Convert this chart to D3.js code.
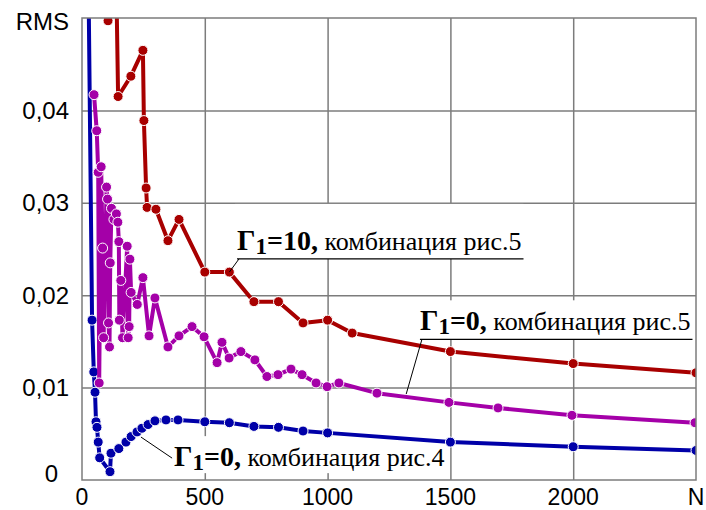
<!DOCTYPE html>
<html>
<head>
<meta charset="utf-8">
<script src="https://cdn.jsdelivr.net/npm/d3@7/dist/d3.min.js"></script>
<style>
  body { margin: 0; background: #fff; }
  svg { display: block; }
</style>
</head>
<body>
<svg id="chart" width="706" height="510"></svg>
<script>
// Γ1=10, комбинация рис.5
var redN = [106, 133, 147, 199, 248, 252, 261, 265, 301, 350, 395, 500, 600, 700, 800, 900, 1000, 1100, 1500, 2000, 2500]
var redV = [0.0497, 0.065, 0.0415, 0.0437, 0.0465, 0.0389, 0.0316, 0.0295, 0.0293, 0.0259, 0.0282, 0.0225, 0.0225, 0.0193, 0.0193, 0.0170, 0.0173, 0.0159, 0.0139, 0.0126, 0.0116]

// Γ1=0, комбинация рис.5
var purpleN = [49, 60, 66, 70, 78, 84, 88, 100, 104, 108, 112, 115, 120, 130, 140, 146, 150, 152, 158, 165, 184, 188, 192, 195, 200, 225, 248, 273, 297, 350, 395, 448, 497, 550, 570, 599, 647, 704, 753, 798, 851, 896, 953, 998, 1046, 1201, 1494, 1694, 1995, 2496]
var purpleV = [0.0417, 0.0378, 0.0333, 0.0105, 0.0339, 0.0251, 0.0154, 0.0317, 0.0304, 0.0170, 0.0144, 0.0235, 0.0294, 0.0282, 0.0288, 0.0279, 0.0258, 0.0173, 0.0216, 0.0154, 0.0253, 0.0154, 0.0166, 0.0239, 0.0203, 0.0190, 0.0219, 0.0156, 0.0197, 0.0144, 0.0156, 0.0166, 0.0155, 0.0127, 0.0149, 0.0132, 0.0139, 0.0130, 0.0112, 0.0114, 0.0120, 0.0114, 0.0105, 0.0101, 0.0105, 0.0094, 0.0084, 0.0078, 0.0070, 0.0062]

// Γ1=0, комбинация рис.4
var blueN = [24, 41, 48, 53, 57, 61, 66, 72, 114, 118, 150, 179, 200, 224, 244, 269, 297, 342, 391, 500, 600, 700, 800, 900, 1000, 1500, 2000, 2500]
var blueV = [0.06, 0.0173, 0.0117, 0.0095, 0.0063, 0.0057, 0.0041, 0.0024, 0.0009, 0.0029, 0.0034, 0.0041, 0.0047, 0.0052, 0.0056, 0.0060, 0.0064, 0.0065, 0.0065, 0.0063, 0.0062, 0.0058, 0.0057, 0.0053, 0.0051, 0.0041, 0.0036, 0.0032]

var xTicks = [0, 500, 1000, 1500, 2000, 2500]
var xTickLabels = ['0', '500', '1000', '1500', '2000', 'N']
var yTicks = [0, 0.01, 0.02, 0.03, 0.04, 0.05]
var yTickLabels = ['0', '0,01', '0,02', '0,03', '0,04', 'RMS']

var w = 706
var h = 510
var margin = {top: 18, right: 10, bottom: 30, left: 82}

var svg = d3.select('#chart')

var x = d3.scaleLinear().domain([0, 2500]).range([margin.left, w - margin.right])
var y = d3.scaleLinear().domain([0, 0.05]).range([h - margin.bottom, margin.top])

var gridColor = '#7c7c7c'

// grid
svg.append('g')
    .attr('transform', `translate(0,${margin.top})`)
    .call(d3.axisBottom(x).tickValues(xTicks.slice(1, -1)).tickSize(y(0) - margin.top).tickFormat(''))
    .call(g => g.select('.domain').remove())
    .selectAll('line').attr('stroke', gridColor).attr('stroke-width', 1.5)

svg.append('g')
    .attr('transform', `translate(${margin.left},0)`)
    .call(d3.axisRight(y).tickValues(yTicks.slice(1, -1)).tickSize(x(2500) - margin.left).tickFormat(''))
    .call(g => g.select('.domain').remove())
    .selectAll('line').attr('stroke', gridColor).attr('stroke-width', 1.5)

// annotations: white boxes go over the grid
var notes = [
  {n: 631, v: 0.0249, big: '=10,', rest: ' комбинация рис.5', underline: true, lead: [600, 0.0225], pad: [20, 6]},
  {n: 1376, v: 0.0162, big: '=0,', rest: ' комбинация рис.5', underline: true, lead: [1320, 0.0093], pad: [4, 6]},
  {n: 375, v: 0.0015, big: '=0,', rest: ' комбинация рис.4', underline: false, lead: [240, 0.00465], pad: [4, 2]}
]

var noteLayer = svg.append('g')
var seriesLayer = svg.append('g')
var textLayer = svg.append('g')

notes.forEach(d => {
  var g = textLayer.append('g')
  var t = g.append('text')
      .attr('x', x(d.n))
      .attr('y', y(d.v))
      .attr('font-family', '"Liberation Serif", "Times New Roman", serif')
      .attr('fill', '#000')
  t.append('tspan').attr('font-size', 29).attr('font-weight', 'bold').text('Γ')
  t.append('tspan').attr('font-size', 23).attr('font-weight', 'bold').attr('dy', 4).text('1')
  t.append('tspan').attr('font-size', 28).attr('font-weight', 'bold').attr('dy', -4).text(d.big)
  t.append('tspan').attr('font-size', 26).text(d.rest)

  var bb = t.node().getBBox()
  var ulY = y(d.v) + 9
  noteLayer.append('rect')
      .attr('x', bb.x - 2)
      .attr('y', bb.y - d.pad[0])
      .attr('width', bb.width + 4)
      .attr('height', (d.underline ? ulY - bb.y : bb.height) + d.pad[0] + (d.underline ? 0 : -d.pad[1]))
      .attr('fill', '#fff')

  if (d.underline) {
    g.append('line')
        .attr('x1', bb.x).attr('x2', bb.x + bb.width + 2)
        .attr('y1', ulY).attr('y2', ulY)
        .attr('stroke', '#000').attr('stroke-width', 1.2)
    g.append('line')
        .attr('x1', bb.x + 2).attr('y1', ulY)
        .attr('x2', x(d.lead[0])).attr('y2', y(d.lead[1]))
        .attr('stroke', '#000').attr('stroke-width', 1)
  } else {
    g.append('line')
        .attr('x1', bb.x - 2).attr('y1', y(d.v) - 8)
        .attr('x2', x(d.lead[0])).attr('y2', y(d.lead[1]))
        .attr('stroke', '#000').attr('stroke-width', 1)
  }
})

// frame
svg.append('rect')
    .attr('x', margin.left)
    .attr('y', margin.top)
    .attr('width', x(2500) - margin.left)
    .attr('height', y(0) - margin.top)
    .attr('fill', 'none')
    .attr('stroke', gridColor)
    .attr('stroke-width', 1.5)

svg.append('clipPath').attr('id', 'plot')
  .append('rect')
    .attr('x', margin.left)
    .attr('y', margin.top)
    .attr('width', x(2500) - margin.left)
    .attr('height', y(0) - margin.top)

var series = [
  {n: blueN, v: blueV, color: '#0000a8'},
  {n: purpleN, v: purpleV, color: '#a400a8'},
  {n: redN, v: redV, color: '#a80000'}
]

var line = d3.line().x(d => x(d[0])).y(d => y(d[1]))

seriesLayer.attr('clip-path', 'url(#plot)')

series.forEach(s => {
  var pts = s.n.map((n, i) => [n, s.v[i]])
  seriesLayer.append('path')
      .datum(pts)
      .attr('d', line)
      .attr('fill', 'none')
      .attr('stroke', s.color)
      .attr('stroke-width', 4)
      .attr('stroke-linejoin', 'round')
  seriesLayer.append('g').selectAll('circle')
      .data(pts)
      .join('circle')
      .attr('cx', d => x(d[0]))
      .attr('cy', d => y(d[1]))
      .attr('r', 5)
      .attr('fill', s.color)
      .attr('stroke', '#fff')
      .attr('stroke-width', 1)
})

// tick labels
var labelFont = '"Liberation Sans", Arial, sans-serif'

svg.append('g').selectAll('text')
    .data(xTicks)
    .join('text')
    .attr('x', d => x(d))
    .attr('y', 505)
    .attr('text-anchor', 'middle')
    .attr('font-family', labelFont)
    .attr('font-size', 23)
    .text((d, i) => xTickLabels[i])

svg.append('g').selectAll('text')
    .data(yTicks)
    .join('text')
    .attr('x', d => d === 0 ? 58 : 69)
    .attr('y', d => d === 0 ? y(d) - 6 : d === 0.05 ? y(d) + 4 : y(d))
    .attr('dy', '0.35em')
    .attr('text-anchor', 'end')
    .attr('font-family', labelFont)
    .attr('font-size', 24)
    .text((d, i) => yTickLabels[i])
</script>
</body>
</html>
